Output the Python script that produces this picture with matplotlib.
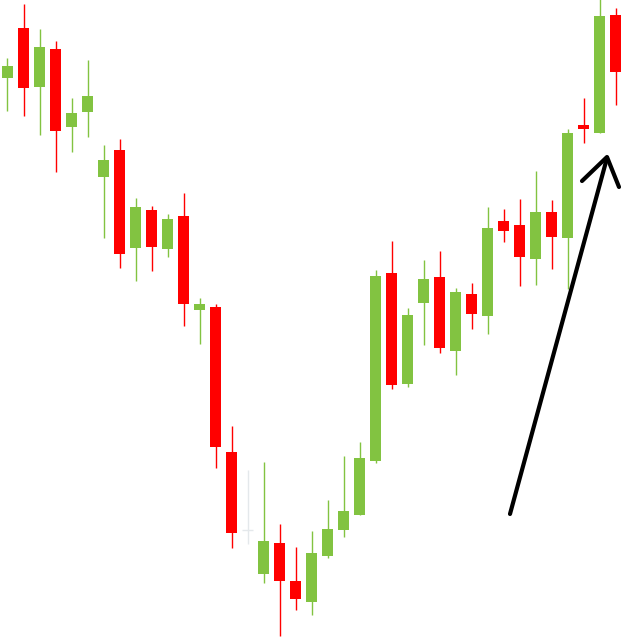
import matplotlib
matplotlib.use("Agg")
import matplotlib.pyplot as plt
from matplotlib.lines import Line2D
from matplotlib.patches import Rectangle

# OHLC series, one entry per session
opens = [56.5, 61.5, 55.6, 59.4, 51.6, 53.1, 46.6, 49.3, 39.5, 43.3,
         39.4, 42.7, 33.3, 33.6, 19.1, 11.3, 6.9, 10.0, 6.2, 4.1,
         8.7, 11.3, 12.8, 18.2, 37.0, 25.9, 34.0, 36.6, 29.2, 34.9,
         32.7, 42.2, 41.8, 38.4, 43.1, 40.5, 51.8, 51.0, 62.8]
highs = [58.5, 63.9, 61.4, 60.2, 54.5, 58.3, 49.8, 50.4, 44.5, 43.7,
         42.9, 45.0, 34.5, 33.9, 21.7, 17.3, 18.1, 11.9, 9.6, 11.2,
         14.3, 18.7, 20.1, 37.3, 40.2, 33.5, 38.3, 39.2, 35.5, 36.0,
         43.6, 43.4, 44.4, 47.2, 44.3, 51.4, 54.5, 65.0, 63.5]
lows = [53.2, 52.7, 50.8, 47.1, 49.1, 50.6, 40.5, 37.5, 36.2, 37.2,
        38.6, 31.7, 29.9, 17.5, 9.5, 9.9, 6.0, 0.7, 3.3, 2.8,
        8.5, 10.6, 12.8, 18.0, 25.4, 25.6, 29.8, 29.0, 26.8, 31.4,
        30.9, 40.1, 35.7, 35.8, 37.4, 35.4, 50.0, 51.0, 53.8]
closes = [57.7, 55.5, 59.6, 51.2, 53.0, 54.7, 48.3, 38.9, 43.6, 39.6,
          42.4, 33.9, 33.9, 19.6, 11.0, 11.3, 10.2, 6.2, 4.4, 9.0,
          11.4, 13.2, 18.5, 36.7, 25.8, 32.8, 36.4, 29.5, 35.1, 32.9,
          41.5, 41.2, 38.6, 43.1, 40.6, 51.0, 51.4, 62.7, 57.1]

UP = "#82c341"
DOWN = "#ff0000"
FLAT = "#e4e8eb"
BODY_W = 0.69

fig = plt.figure(figsize=(6.24, 6.43), dpi=100)
ax = fig.add_axes([0, 0, 1, 1])
ax.set_xlim(-0.46875, 38.53125)
ax.set_ylim(0, 64.3)
ax.axis("off")

for i, (o, h, l, c) in enumerate(zip(opens, highs, lows, closes)):
    if c > o:
        col = UP
    elif c < o:
        col = DOWN
    else:
        col = FLAT
    ax.vlines(i, l, h, color=col, linewidth=1.0, zorder=2)
    if c == o:
        ax.hlines(o, i - BODY_W / 2, i + BODY_W / 2, color=col, linewidth=1.0, zorder=3)
    else:
        lo, hi = min(o, c), max(o, c)
        ax.add_patch(Rectangle((i - BODY_W / 2, lo), BODY_W, hi - lo,
                               facecolor=col, edgecolor="none", zorder=3))

# Hand-drawn style trend arrow
W, H = 624, 643
def fpt(x, y):
    return x / W, 1 - y / H

shaft = [fpt(510, 514), fpt(607, 158)]
head = [fpt(582, 181), fpt(607, 157), fpt(619, 187)]
for pts in (shaft, head):
    xs, ys = zip(*pts)
    fig.add_artist(Line2D(xs, ys, transform=fig.transFigure, color="black",
                          linewidth=3.0, solid_capstyle="round",
                          solid_joinstyle="round", zorder=5))

fig.savefig("out.png", dpi=100, facecolor="white")
